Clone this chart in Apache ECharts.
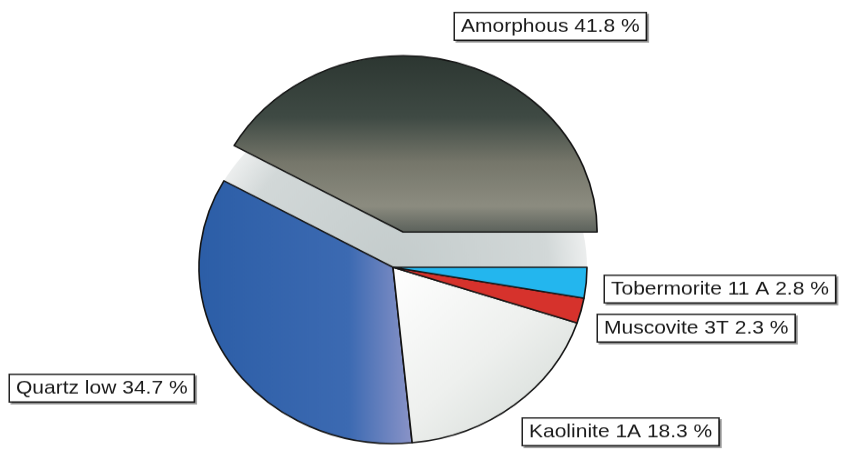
<!DOCTYPE html>
<html>
<head>
<meta charset="utf-8">
<script src="https://cdn.jsdelivr.net/npm/echarts@6/dist/echarts.min.js"></script>
<style>
  html, body { margin: 0; padding: 0; background: #fff; overflow: hidden; }
  /* the original is a bit wider than tall, so squash the whole chart a little */
  #chart { width: 853px; height: 494px; transform: scaleY(0.909); transform-origin: 0 0; }
</style>
</head>
<body>
<div id="chart"></div>
<script>
// phase names and their shares (%), counter-clockwise from 3 o'clock
const phases = ['Amorphous', 'Quartz low', 'Kaolinite 1A', 'Muscovite 3T', 'Tobermorite 11 A'];
const shares = [41.8, 34.7, 18.3, 2.3, 2.8];

// slice fills
const fills = [
  { type: 'linear', x: 0, y: 0, x2: 0, y2: 1, colorStops: [
    { offset: 0, color: '#2c3631' }, { offset: 0.35, color: '#3f4a44' },
    { offset: 0.6, color: '#75766a' }, { offset: 0.85, color: '#8c8c80' }, { offset: 1, color: '#5a605a' }] },
  { type: 'linear', x: 0, y: 0, x2: 1, y2: 0, colorStops: [
    { offset: 0, color: '#2c5ea7' }, { offset: 0.7, color: '#3c6ab2' }, { offset: 1, color: '#8b94c8' }] },
  { type: 'linear', x: 0, y: 0, x2: 1, y2: 1, colorStops: [
    { offset: 0, color: '#ffffff' }, { offset: 0.5, color: '#eef0ee' }, { offset: 1, color: '#cfd6d2' }] },
  '#d6322c',
  '#23b6ee'
];

// where each label box sits: left edge, vertical middle (chart coords, before the css squash)
const labelPos = [[455, 29], [10, 427], [523, 475], [598, 361], [605, 318]];

const chart = echarts.init(document.getElementById('chart'));

// boxed labels, drawn as graphic text so the pie doesn't squeeze them
const labels = phases.map((name, i) => ({
  type: 'text',
  x: labelPos[i][0],
  y: labelPos[i][1],
  z: 10,
  style: {
    text: name + ' ' + shares[i] + ' %',
    font: '21px "Liberation Sans", Arial, sans-serif',
    fill: '#1a1a1a',
    verticalAlign: 'middle',
    align: 'left',
    backgroundColor: '#fff',
    borderColor: '#222',
    borderWidth: 1.5,
    padding: [4, 6],
    shadowColor: 'rgba(0,0,0,0.35)',
    shadowOffsetX: 2,
    shadowOffsetY: 2
  }
}));

chart.setOption({
  animation: false,
  backgroundColor: '#fff',
  graphic: labels,
  series: [
    {
      // grey disc showing through the gap of the pulled-out slice
      type: 'pie',
      silent: true,
      center: [393, 294],
      radius: 194,
      label: { show: false },
      labelLine: { show: false },
      z: 1,
      data: [{ value: 1, itemStyle: { color: {
        type: 'radial', x: 0.5, y: 0.5, r: 0.5, colorStops: [
          { offset: 0, color: '#c4cccc' }, { offset: 0.8, color: '#d2d8d8' }, { offset: 1, color: '#eceeee' }] } } }]
    },
    {
      type: 'pie',
      z: 2,
      center: [393, 294],
      radius: 194,
      startAngle: 0,
      clockwise: false,
      selectedMode: 'single',
      selectedOffset: 40,
      emphasis: { disabled: true },
      itemStyle: { borderColor: '#151515', borderWidth: 1.6 },
      label: { show: false },
      labelLine: { show: false },
      data: phases.map((name, i) => ({
        name: name,
        value: shares[i],
        selected: i === 0,
        itemStyle: { color: fills[i] }
      }))
    }
  ]
});
</script>
</body>
</html>
